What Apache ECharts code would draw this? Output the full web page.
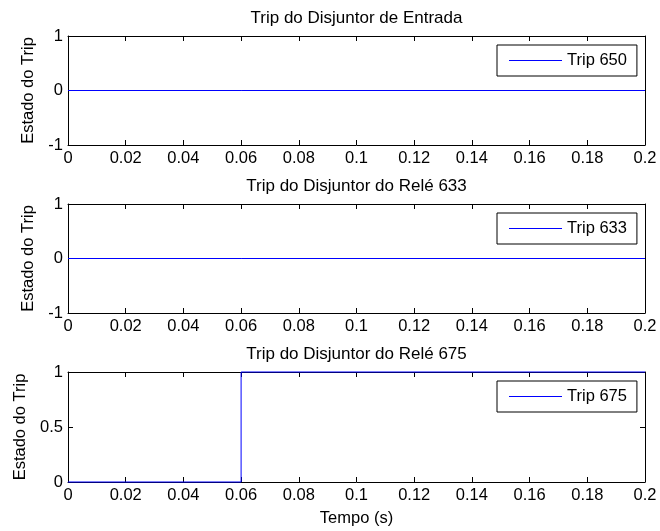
<!DOCTYPE html>
<html>
<head>
<meta charset="utf-8">
<script src="https://cdn.jsdelivr.net/npm/echarts@6/dist/echarts.min.js"></script>
<style>
  html, body { margin: 0; padding: 0; background: #fff; }
  #chart { width: 660px; height: 531px; }
</style>
</head>
<body>
<div id="chart"></div>
<script>
// Time samples (s) shared by the three trip signals
const tempo = [0, 0.06, 0.06, 0.2];
// Trip states per breaker
const trip650 = [0, 0, 0, 0];
const trip633 = [0, 0, 0, 0];
const trip675 = [0, 0, 1, 1];

const titles = [
  'Trip do Disjuntor de Entrada',
  'Trip do Disjuntor do Relé 633',
  'Trip do Disjuntor do Relé 675'
];
const seriesNames = ['Trip 650', 'Trip 633', 'Trip 675'];
const seriesValues = [trip650, trip633, trip675];
// y range per panel: [min, max, step]
const yRanges = [[-1, 1, 1], [-1, 1, 1], [0, 1, 0.5]];
const xRange = [0, 0.2, 0.02];

const FONT = '"Liberation Sans", Arial, Helvetica, sans-serif';
const FS = 16.5;
const gridTops = [36, 204, 372];
// odd heights put the y = 0 line of the symmetric panels on a pixel centre
const gridHeights = [109, 109, 110];
const gridLeft = 68, gridRight = 15;

const grids = [], xAxes = [], yAxes = [], series = [], legends = [], titleList = [];

const axisLine = { show: true, onZero: false, lineStyle: { color: '#000', width: 1 } };
const tick = { show: true, inside: true, length: 5, lineStyle: { color: '#000' } };

function fmt(v) { return String(+v.toFixed(2)); }

for (let i = 0; i < 3; i++) {
  grids.push({ left: gridLeft, right: gridRight, top: gridTops[i], height: gridHeights[i] });

  const xBase = {
    gridIndex: i, type: 'value', min: xRange[0], max: xRange[1], interval: xRange[2],
    axisLine: axisLine, axisTick: tick, splitLine: { show: false }
  };
  xAxes.push(Object.assign({}, xBase, {
    position: 'bottom',
    axisLabel: { color: '#000', fontFamily: FONT, fontSize: FS, margin: 5, formatter: fmt },
    name: i === 2 ? 'Tempo (s)' : '',
    nameLocation: 'middle', nameGap: 28,
    nameTextStyle: { color: '#000', fontFamily: FONT, fontSize: FS }
  }));
  xAxes.push(Object.assign({}, xBase, { position: 'top', axisLabel: { show: false } }));

  const yr = yRanges[i];
  const yBase = {
    gridIndex: i, type: 'value', min: yr[0], max: yr[1], interval: yr[2],
    axisLine: axisLine, axisTick: tick, splitLine: { show: false }
  };
  yAxes.push(Object.assign({}, yBase, {
    position: 'left',
    axisLabel: { color: '#000', fontFamily: FONT, fontSize: FS, margin: 5, formatter: fmt },
    name: 'Estado do Trip', nameLocation: 'middle', nameGap: 28,
    nameTextStyle: { color: '#000', fontFamily: FONT, fontSize: FS }
  }));
  yAxes.push(Object.assign({}, yBase, { position: 'right', axisLabel: { show: false } }));

  series.push({
    name: seriesNames[i], type: 'line',
    xAxisIndex: 2 * i, yAxisIndex: 2 * i,
    data: tempo.map((t, k) => [t, seriesValues[i][k]]),
    symbol: 'none', clip: false,
    lineStyle: { color: '#0000ff', width: 1 },
    itemStyle: { color: '#0000ff' },
    z: 5
  });

  legends.push({
    data: [{ name: seriesNames[i], icon: 'rect' }],
    left: 497, top: gridTops[i] + 9,
    orient: 'vertical',
    padding: [7, 10, 7, 12],
    itemWidth: 53, itemHeight: 1,
    backgroundColor: '#fff', borderColor: '#000', borderWidth: 1,
    selectedMode: false,
    textStyle: { color: '#000', fontFamily: FONT, fontSize: FS }
  });

  titleList.push({
    text: titles[i], left: gridLeft + (660 - gridLeft - gridRight) / 2, textAlign: 'center',
    top: gridTops[i] - 26, padding: 0,
    textStyle: { color: '#000', fontFamily: FONT, fontSize: FS + 0.5, fontWeight: 'normal' }
  });
}

const chart = echarts.init(document.getElementById('chart'), null, { renderer: 'canvas' });
chart.setOption({
  animation: false,
  backgroundColor: '#fff',
  title: titleList,
  legend: legends,
  grid: grids,
  xAxis: xAxes,
  yAxis: yAxes,
  series: series
});
</script>
</body>
</html>
